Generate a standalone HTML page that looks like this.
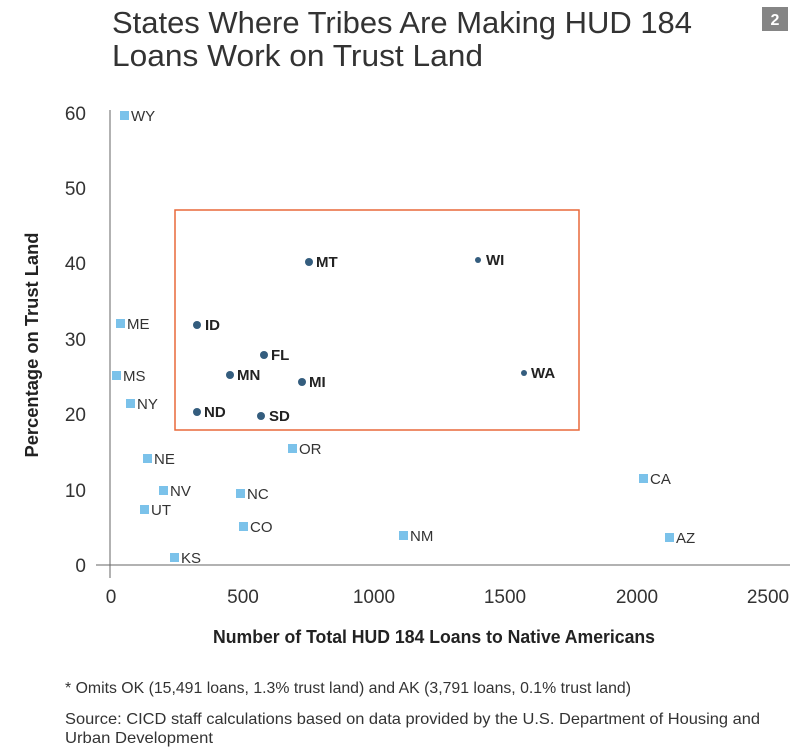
<!DOCTYPE html>
<html><head><meta charset="utf-8"><style>
html,body{margin:0;padding:0;background:#fff}
svg{display:block;font-family:"Liberation Sans Narrow","Liberation Sans",sans-serif}
</style></head><body>
<svg width="800" height="749" viewBox="0 0 800 749" xmlns="http://www.w3.org/2000/svg">
<text x="112" y="33" font-size="31" fill="#333" textLength="580" lengthAdjust="spacingAndGlyphs">States Where Tribes Are Making HUD 184</text>
<text x="112" y="66" font-size="31" fill="#333" textLength="371" lengthAdjust="spacingAndGlyphs">Loans Work on Trust Land</text>
<rect x="762" y="7" width="26" height="24" fill="#858585"/>
<text x="775" y="25" font-size="16" font-weight="bold" fill="#fff" text-anchor="middle" font-family="Liberation Sans,sans-serif">2</text>

<line x1="110" y1="110" x2="110" y2="578" stroke="#666" stroke-width="1"/>
<line x1="96" y1="565" x2="790" y2="565" stroke="#666" stroke-width="1"/>
<g font-size="19" fill="#333" text-anchor="end" font-family="Liberation Sans,sans-serif">
<text x="86" y="120">60</text><text x="86" y="195">50</text><text x="86" y="270">40</text>
<text x="86" y="346">30</text><text x="86" y="421">20</text><text x="86" y="497">10</text><text x="86" y="572">0</text>
</g>
<g font-size="19" fill="#333" text-anchor="middle" font-family="Liberation Sans,sans-serif">
<text x="111" y="603">0</text><text x="243" y="603">500</text><text x="374" y="603">1000</text>
<text x="505" y="603">1500</text><text x="637" y="603">2000</text><text x="768" y="603">2500</text>
</g>
<text x="434" y="643" font-size="18" font-weight="bold" fill="#222" text-anchor="middle" textLength="442" lengthAdjust="spacingAndGlyphs">Number of Total HUD 184 Loans to Native Americans</text>
<text transform="translate(38,345) rotate(-90)" font-size="18" font-weight="bold" fill="#222" text-anchor="middle" textLength="225" lengthAdjust="spacingAndGlyphs">Percentage on Trust Land</text>

<rect x="175" y="210" width="404" height="220" fill="none" stroke="#e8683a" stroke-width="1.5"/>

<g fill="#7bc2ea">
<rect x="120" y="111" width="9" height="9"/><rect x="116" y="319" width="9" height="9"/>
<rect x="112" y="371" width="9" height="9"/><rect x="126" y="399" width="9" height="9"/>
<rect x="143" y="454" width="9" height="9"/><rect x="159" y="486" width="9" height="9"/>
<rect x="140" y="505" width="9" height="9"/><rect x="170" y="553" width="9" height="9"/>
<rect x="236" y="489" width="9" height="9"/><rect x="239" y="522" width="9" height="9"/>
<rect x="288" y="444" width="9" height="9"/><rect x="399" y="531" width="9" height="9"/>
<rect x="639" y="474" width="9" height="9"/><rect x="665" y="533" width="9" height="9"/>
</g>
<g font-size="15" fill="#333" font-family="Liberation Sans,sans-serif">
<text x="131" y="121">WY</text><text x="127" y="329">ME</text><text x="123" y="381">MS</text>
<text x="137" y="409">NY</text><text x="154" y="464">NE</text><text x="170" y="496">NV</text>
<text x="151" y="515">UT</text><text x="181" y="563">KS</text><text x="247" y="499">NC</text>
<text x="250" y="532">CO</text><text x="299" y="454">OR</text><text x="410" y="541">NM</text>
<text x="650" y="484">CA</text><text x="676" y="543">AZ</text>
</g>
<g fill="#345d7e">
<circle cx="309" cy="262" r="4"/><circle cx="478" cy="260" r="3"/><circle cx="197" cy="325" r="4"/>
<circle cx="264" cy="355" r="4"/><circle cx="230" cy="375" r="4"/><circle cx="302" cy="382" r="4"/>
<circle cx="197" cy="412" r="4"/><circle cx="261" cy="416" r="4"/><circle cx="524" cy="373" r="3"/>
</g>
<g font-size="15" font-weight="bold" fill="#222" font-family="Liberation Sans,sans-serif">
<text x="316" y="267">MT</text><text x="486" y="265">WI</text><text x="205" y="330">ID</text>
<text x="271" y="360">FL</text><text x="237" y="380">MN</text><text x="309" y="387">MI</text>
<text x="204" y="417">ND</text><text x="269" y="421">SD</text><text x="531" y="378">WA</text>
</g>

<text x="65" y="693" font-size="16" fill="#333" textLength="566" lengthAdjust="spacingAndGlyphs">* Omits OK (15,491 loans, 1.3% trust land) and AK (3,791 loans, 0.1% trust land)</text>
<text x="65" y="724" font-size="16" fill="#333" textLength="695" lengthAdjust="spacingAndGlyphs">Source: CICD staff calculations based on data provided by the U.S. Department of Housing and</text>
<text x="65" y="743" font-size="16" fill="#333" textLength="148" lengthAdjust="spacingAndGlyphs">Urban Development</text>
</svg>
</body></html>
